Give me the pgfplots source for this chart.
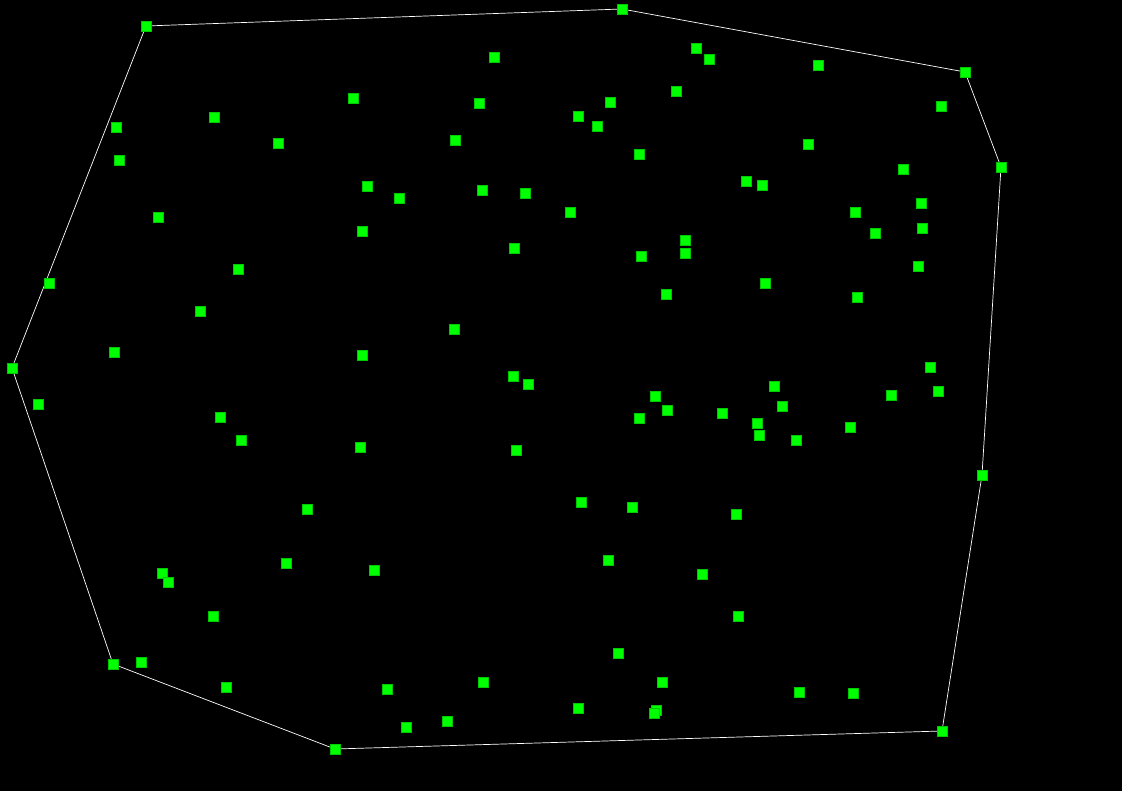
\documentclass[border=0pt]{standalone}
\usepackage{pgfplots}
\pgfplotsset{compat=1.18}
\begin{document}
\begin{tikzpicture}
\begin{axis}[width=1122pt, height=791pt, scale only axis,
  xmin=0, xmax=1122, ymin=0, ymax=791, y dir=reverse,
  hide axis, clip=true]
\fill[black] (axis cs:0,0) rectangle (axis cs:1122,791);
\addplot[only marks, mark=square*, mark size=4.8pt, color={rgb,255:red,0;green,240;blue,0}, mark options={fill={rgb,255:red,0;green,255;blue,0}, draw={rgb,255:red,0;green,200;blue,0}, line width=0.5pt}] coordinates {
(146,26) (622,9) (965,72) (1001,167) (982,475) (942,731) (335,749) (113,664) (12,368) (49,283)
(494,57) (696,48) (709,59) (818,65) (676,91) (941,106) (353,98) (479,103) (610,102) (578,116)
(597,126) (214,117) (116,127) (278,143) (455,140) (808,144) (639,154) (119,160) (903,169) (746,181)
(762,185) (367,186) (482,190) (525,193) (399,198) (921,203) (855,212) (570,212) (158,217) (922,228)
(875,233) (362,231) (685,240) (514,248) (641,256) (685,253) (238,269) (918,266) (765,283) (666,294)
(857,297) (200,311) (454,329) (114,352) (362,355) (930,367) (513,376) (528,384) (774,386) (38,404)
(655,396) (891,395) (938,391) (782,406) (667,410) (722,413) (639,418) (220,417) (757,423) (850,427)
(759,435) (796,440) (241,440) (360,447) (516,450) (581,502) (632,507) (307,509) (736,514) (286,563)
(608,560) (374,570) (162,573) (168,582) (702,574) (213,616) (738,616) (618,653) (141,662) (662,682)
(483,682) (226,687) (387,689) (799,692) (853,693) (578,708) (656,710) (654,713) (447,721) (406,727)
};
\addplot[white, line width=0.7pt, mark=none] coordinates {
(146,26) (622,9) (965,72) (1001,167) (982,475) (942,731) (335,749) (113,664) (12,368) (146,26)
};
\end{axis}
\end{tikzpicture}
\end{document}
